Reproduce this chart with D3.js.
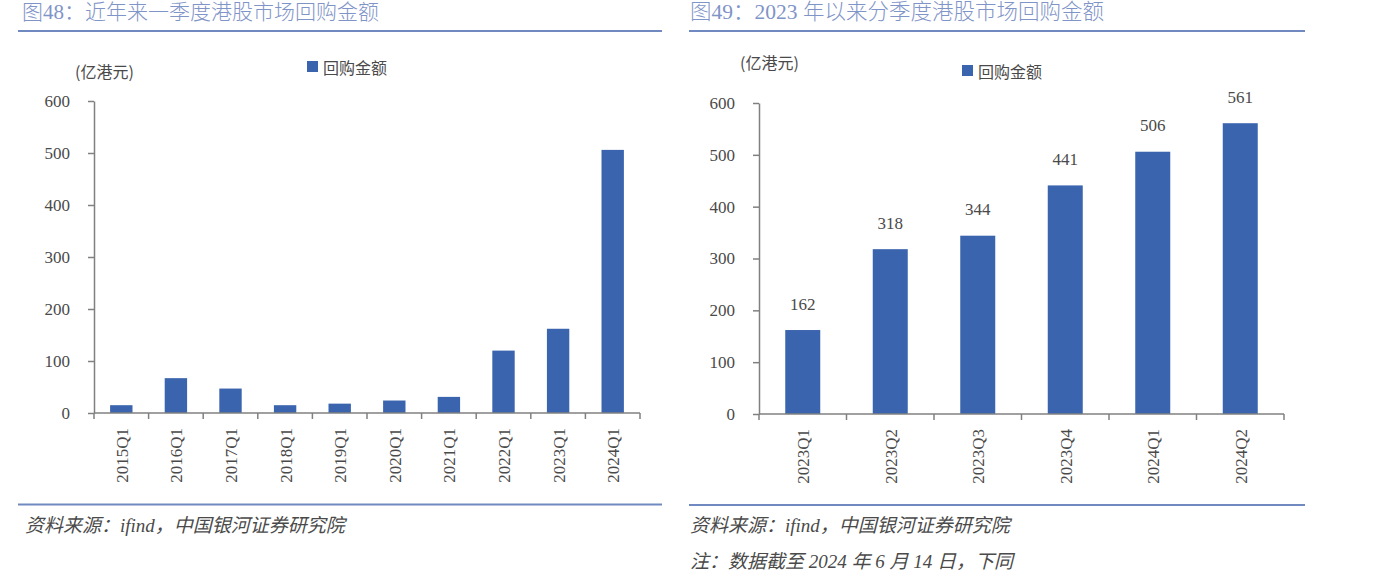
<!DOCTYPE html>
<html><head><meta charset="utf-8">
<script src="https://cdn.jsdelivr.net/npm/d3@7/dist/d3.min.js"></script>
<style>html,body{margin:0;padding:0;background:#fff;}</style>
</head><body>
<svg id="c" width="1382" height="576"></svg>
<script>
// ---- data ----
const leftTitle = "图48：近年来一季度港股市场回购金额";
const leftCategories = ["2015Q1","2016Q1","2017Q1","2018Q1","2019Q1","2020Q1","2021Q1","2022Q1","2023Q1","2024Q1"];
const leftValues = [15, 67, 47, 15, 18, 24, 31, 120, 162, 506];
const rightTitle = "图49：2023 年以来分季度港股市场回购金额";
const rightCategories = ["2023Q1","2023Q2","2023Q3","2023Q4","2024Q1","2024Q2"];
const rightValues = [162, 318, 344, 441, 506, 561];
const yTickValues = [0, 100, 200, 300, 400, 500, 600];
const unitLabel = "(亿港元)";
const seriesName = "回购金额";
const sourceText = "资料来源：ifind，中国银河证券研究院";
const noteText = "注：数据截至 2024 年 6 月 14 日，下同";

// ---- style ----
const BAR = "#3a64ae";
const TITLE_C = "#7f94c7";
const RULE_C = "#7089c0";
const TEXT_C = "#4a4a4a";
const AXIS_C = "#808080";
const SERIF = "'Liberation Serif','Noto Sans CJK SC',serif";
const CJK = "'Noto Sans CJK SC','Liberation Serif',sans-serif";

const svg = d3.select("#c");
svg.append("rect").attr("width",1382).attr("height",576).attr("fill","#fff");

function panel(cfg){
  const g = svg.append("g");
  // title
  g.append("text").attr("x",cfg.titleX).attr("y",12).attr("dominant-baseline","central")
    .attr("font-family",SERIF).attr("font-size",cfg.titleSize).attr("font-weight",300)
    .attr("fill",TITLE_C).text(cfg.title);
  g.append("line").attr("x1",cfg.ruleX1).attr("x2",cfg.ruleX2).attr("y1",31).attr("y2",31)
    .attr("stroke",RULE_C).attr("stroke-width",2.2);
  g.append("line").attr("x1",cfg.ruleX1).attr("x2",cfg.ruleX2).attr("y1",cfg.bottomRuleY).attr("y2",cfg.bottomRuleY)
    .attr("stroke",RULE_C).attr("stroke-width",2.2);

  const x = d3.scaleBand().domain(cfg.categories).range([cfg.x0, cfg.x1]).padding(0);
  const y = d3.scaleLinear().domain([0,600]).range([cfg.y0, cfg.yTop]);
  const bw = x.bandwidth()*cfg.barRatio;

  // unit + legend
  g.append("text").attr("x",cfg.unitX).attr("y",cfg.unitY).attr("dominant-baseline","central")
    .attr("font-family",CJK).attr("font-size",16).attr("fill",TEXT_C).text(unitLabel);
  g.append("rect").attr("x",cfg.legX).attr("y",cfg.legY-6).attr("width",11).attr("height",11).attr("fill",BAR);
  g.append("text").attr("x",cfg.legX+16).attr("y",cfg.legY).attr("dominant-baseline","central")
    .attr("font-family",CJK).attr("font-size",16).attr("fill",TEXT_C).text(seriesName);

  // bars
  g.selectAll("rect.bar").data(cfg.values).enter().append("rect").attr("class","bar")
    .attr("x",(d,i)=>x(cfg.categories[i])+x.bandwidth()/2-bw/2)
    .attr("y",d=>y(d)).attr("width",bw).attr("height",d=>y(0)-y(d)).attr("fill",BAR);

  if(cfg.showValues){
    g.selectAll("text.val").data(cfg.values).enter().append("text").attr("class","val")
      .attr("x",(d,i)=>x(cfg.categories[i])+x.bandwidth()/2)
      .attr("y",d=>y(d)-26).attr("text-anchor","middle").attr("dominant-baseline","central")
      .attr("font-family",SERIF).attr("font-size",17).attr("fill",TEXT_C).text(d=>d);
  }

  // y axis
  const ya = d3.axisLeft(y).tickValues(yTickValues).tickSize(6).tickPadding(18).tickSizeOuter(0);
  const yg = g.append("g").attr("transform",`translate(${cfg.x0},0)`).call(ya);
  yg.select(".domain").attr("stroke",AXIS_C).attr("stroke-width",1.5);
  yg.selectAll(".tick line").attr("stroke",AXIS_C).attr("stroke-width",1.5);
  yg.selectAll(".tick text").attr("font-family",SERIF).attr("font-size",17).attr("fill",TEXT_C);

  // x axis baseline + boundary ticks
  g.append("line").attr("x1",cfg.x0).attr("x2",cfg.x1).attr("y1",y(0)).attr("y2",y(0))
    .attr("stroke",AXIS_C).attr("stroke-width",1.5);
  const bounds = cfg.categories.map(c=>x(c)).concat([cfg.x1]);
  g.selectAll("line.bt").data(bounds).enter().append("line").attr("class","bt")
    .attr("x1",d=>d).attr("x2",d=>d).attr("y1",y(0)).attr("y2",y(0)+6)
    .attr("stroke",AXIS_C).attr("stroke-width",1.5);
  g.selectAll("text.xl").data(cfg.categories).enter().append("text").attr("class","xl")
    .attr("transform",d=>`translate(${x(d)+x.bandwidth()/2+1},${y(0)+15}) rotate(-90)`)
    .attr("text-anchor","end").attr("dominant-baseline","central")
    .attr("font-family",SERIF).attr("font-size",17).attr("fill",TEXT_C).text(d=>d);

  // source / note
  g.append("text").attr("x",cfg.srcX).attr("y",525).attr("dominant-baseline","central")
    .attr("font-family",SERIF).attr("font-size",19).attr("font-style","italic").attr("fill",TEXT_C).text(sourceText);
  if(cfg.note){
    g.append("text").attr("x",cfg.srcX).attr("y",561).attr("dominant-baseline","central")
      .attr("font-family",SERIF).attr("font-size",19).attr("font-style","italic").attr("fill",TEXT_C).text(cfg.note);
  }
}

panel({title:leftTitle, titleX:22, titleSize:21, ruleX1:18, ruleX2:662, bottomRuleY:504.5,
  categories:leftCategories, values:leftValues, x0:94, x1:640, y0:413, yTop:101, barRatio:0.41,
  unitX:75, unitY:71, legX:307, legY:67, showValues:false, srcX:25});
panel({title:rightTitle, titleX:690, titleSize:21.5, ruleX1:689, ruleX2:1305, bottomRuleY:505,
  categories:rightCategories, values:rightValues, x0:759, x1:1284, y0:414, yTop:103, barRatio:0.4,
  unitX:740, unitY:62, legX:962, legY:71, showValues:true, srcX:690, note:noteText});
</script>
</body></html>
